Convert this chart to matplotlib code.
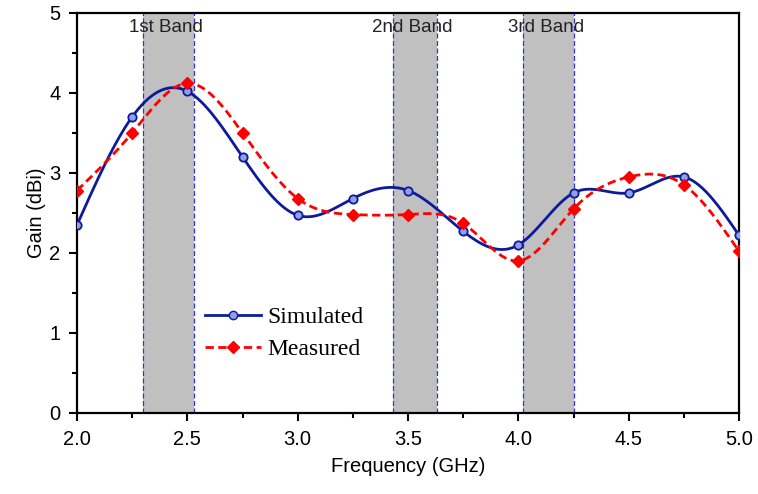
import numpy as np
import matplotlib.pyplot as plt
from matplotlib.ticker import MultipleLocator

freq = [2.0, 2.25, 2.5, 2.75, 3.0, 3.25, 3.5, 3.75, 4.0, 4.25, 4.5, 4.75, 5.0]
gain_sim = [2.35, 3.70, 4.02, 3.20, 2.47, 2.68, 2.78, 2.27, 2.10, 2.75, 2.75, 2.95, 2.22]
gain_meas = [2.78, 3.50, 4.12, 3.50, 2.68, 2.48, 2.48, 2.37, 1.90, 2.55, 2.95, 2.85, 2.02]

bands = [(2.30, 2.53), (3.43, 3.63), (4.02, 4.25)]
band_labels = ['1st Band', '2nd Band', '3rd Band']


def spline(x, y, n=400):
    # natural cubic spline through the measured points
    x = np.asarray(x, float)
    y = np.asarray(y, float)
    h = np.diff(x)
    m = len(x)
    A = np.zeros((m, m))
    b = np.zeros(m)
    A[0, 0] = A[-1, -1] = 1
    for i in range(1, m - 1):
        A[i, i - 1] = h[i - 1]
        A[i, i] = 2 * (h[i - 1] + h[i])
        A[i, i + 1] = h[i]
        b[i] = 6 * ((y[i + 1] - y[i]) / h[i] - (y[i] - y[i - 1]) / h[i - 1])
    M = np.linalg.solve(A, b)
    xs = np.linspace(x[0], x[-1], n)
    idx = np.clip(np.searchsorted(x, xs) - 1, 0, m - 2)
    x0, x1 = x[idx], x[idx + 1]
    hh = x1 - x0
    ys = (M[idx] * (x1 - xs) ** 3 / (6 * hh) + M[idx + 1] * (xs - x0) ** 3 / (6 * hh)
          + (y[idx] / hh - M[idx] * hh / 6) * (x1 - xs)
          + (y[idx + 1] / hh - M[idx + 1] * hh / 6) * (xs - x0))
    return xs, ys


plt.rcParams['font.family'] = 'Liberation Sans'

fig = plt.figure(figsize=(7.58, 4.94), dpi=100)
ax = fig.add_axes([0.1016, 0.164, 0.8734, 0.810])

for (lo, hi), lab in zip(bands, band_labels):
    ax.axvspan(lo, hi, color='#c0c0c0', lw=0, zorder=0)
    for xv in (lo, hi):
        ax.axvline(xv, color='#3333dd', lw=0.9, ls=(0, (4, 2)), zorder=1)
    ax.text((lo + hi) / 2 - 0.01, 4.82, lab, ha='center', va='center', fontsize=13.5,
            color='#222222', zorder=5)

sim_col = '#0d1a9a'
meas_col = '#ff0000'

xs, ys = spline(freq, gain_sim)
ax.plot(xs, ys, color=sim_col, lw=2.0, zorder=3)
ax.plot(freq, gain_sim, 'o', color=sim_col, mfc='#8fa0e8', mec=sim_col, mew=1.3, ms=6, zorder=4)

xm, ym = spline(freq, gain_meas)
ax.plot(xm, ym, color=meas_col, lw=2.0, ls=(0, (3, 1.6)), zorder=3)
ax.plot(freq, gain_meas, 'D', color=meas_col, ms=6.5, mec=meas_col, zorder=4)

ax.plot([], [], color=sim_col, lw=2.0, marker='o', mfc='#8fa0e8', mec=sim_col, ms=6,
        label='Simulated')
ax.plot([], [], color=meas_col, lw=2.0, ls=(0, (3, 1.6)), marker='D', ms=6.5,
        label='Measured')
handles, labels = ax.get_legend_handles_labels()
ax.legend(handles, labels, loc='upper left', bbox_to_anchor=(0.193, 0.265), frameon=False,
          prop={'family': 'Liberation Serif', 'size': 17}, handlelength=2.4,
          handletextpad=0.25, labelspacing=0.42, borderaxespad=0, borderpad=0)

ax.set_xlim(2.0, 5.0)
ax.set_ylim(0, 5)
ax.xaxis.set_major_locator(MultipleLocator(0.5))
ax.xaxis.set_minor_locator(MultipleLocator(0.25))
ax.yaxis.set_major_locator(MultipleLocator(1))
ax.yaxis.set_minor_locator(MultipleLocator(0.5))
ax.xaxis.set_major_formatter(plt.FormatStrFormatter('%.1f'))
ax.tick_params(which='major', direction='out', length=6, width=1.5, labelsize=14.5, pad=6)
ax.tick_params(which='minor', direction='out', length=3.5, width=1.5)
for s in ax.spines.values():
    s.set_linewidth(1.6)

ax.set_xlabel('Frequency (GHz)', fontsize=14.5, labelpad=6)
ax.set_ylabel('Gain (dBi)', fontsize=14.5, labelpad=2)

fig.savefig('out.png', dpi=100)
